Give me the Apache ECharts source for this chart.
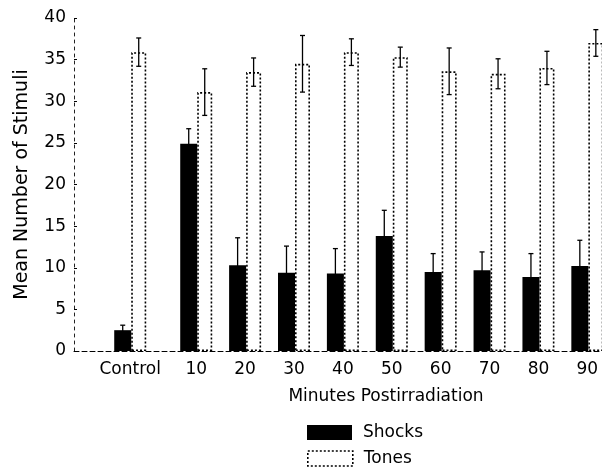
<!DOCTYPE html>
<html><head><meta charset="utf-8">
<script src="https://cdn.jsdelivr.net/npm/echarts@6/dist/echarts.min.js"></script>
<style>html,body{margin:0;padding:0;background:#fff}#c{width:602px;height:468px}</style>
</head><body><div id="c"></div>
<script>
// ---- data ----
const categories = ['Control', '10', '20', '30', '40', '50', '60', '70', '80', '90'];
// position of each group on the minutes axis (Control sits left of 10, wider gap)
const groupPositions = [-3.5, 10, 20, 30, 40, 50, 60, 70, 80, 90];
const shocks    = [2.5, 24.9, 10.3, 9.4, 9.3, 13.8, 9.5, 9.7, 8.9, 10.2];
const shocksErr = [0.6, 1.8, 3.3, 3.2, 3.0, 3.1, 2.2, 2.2, 2.8, 3.1];
const tones     = [35.9, 31.1, 33.5, 34.5, 35.9, 35.3, 33.6, 33.3, 34.0, 37.0];
const tonesErr  = [1.7, 2.8, 1.7, 3.4, 1.6, 1.2, 2.8, 1.8, 2.0, 1.6];
const yTickLabels = ['0', '5', '10', '15', '20', '25', '30', '35', '40'];

const FONT = 'DejaVu Sans';
const TONES_DASH = [2, 2];
const chart = echarts.init(document.getElementById('c'), null, {renderer: 'canvas'});

function errorSeries(name, means, errs, offset) {
  return {
    type: 'custom',
    name: name,
    silent: true,
    z: 10,
    encode: {x: 0, y: 1},
    data: means.map((m, i) => [groupPositions[i], m, errs[i]]),
    renderItem: function (params, api) {
      const x = api.value(0), m = api.value(1), e = api.value(2);
      const top = api.coord([x, m + e]);
      const bot = api.coord([x, m - e]);
      const cx = top[0] + offset;
      const cap = 2.5;
      const st = {stroke: '#000', lineWidth: 1.3};
      return {type: 'group', children: [
        {type: 'line', shape: {x1: cx, y1: top[1], x2: cx, y2: bot[1]}, style: st},
        {type: 'line', shape: {x1: cx - cap, y1: top[1], x2: cx + cap, y2: top[1]}, style: st},
        {type: 'line', shape: {x1: cx - cap, y1: bot[1], x2: cx + cap, y2: bot[1]}, style: st}
      ]};
    }
  };
}

const legendCommon = {
  orient: 'horizontal',
  left: 307,
  padding: 0,
  itemWidth: 45, itemHeight: 15,
  icon: 'rect',
  textStyle: {fontSize: 17, fontFamily: FONT, color: '#000', padding: [0, 0, 0, 6]}
};

const option = {
  animation: false,
  backgroundColor: '#fff',
  textStyle: {fontFamily: FONT, color: '#000'},
  grid: {left: 74, right: 0, top: 18, bottom: 117, outerBoundsMode: 'none', containLabel: false},
  xAxis: {
    type: 'value',
    min: -15, max: 93,
    splitLine: {show: false},
    axisLine: {show: true, onZero: false, lineStyle: {color: '#000', width: 1, type: [5, 3]}},
    axisTick: {show: false},
    axisLabel: {
      customValues: groupPositions,
      formatter: function (v) {
        const i = groupPositions.indexOf(v);
        return i >= 0 ? categories[i] : '';
      },
      fontSize: 17, fontFamily: FONT, color: '#000', margin: 10
    }
  },
  yAxis: {
    type: 'value',
    min: 0, max: 40, interval: 5,
    name: 'Mean Number of Stimuli',
    nameLocation: 'middle',
    nameRotate: 90,
    nameGap: 42,
    nameTextStyle: {fontSize: 19, fontFamily: FONT, color: '#000'},
    splitLine: {show: false},
    axisLine: {show: true, onZero: false, lineStyle: {color: '#222', width: 1, type: [3, 4]}},
    axisTick: {show: true, inside: true, length: 3, lineStyle: {color: '#000'}},
    axisLabel: {
      fontSize: 17, fontFamily: FONT, color: '#000', margin: 8,
      formatter: function (v) { return yTickLabels[Math.round(v / 5)]; }
    }
  },
  legend: [
    Object.assign({}, legendCommon, {top: 424, data: [{name: 'Shocks'}]}),
    Object.assign({}, legendCommon, {top: 450, data: [
      {name: 'Tones', itemStyle: {color: '#fff', borderColor: '#000', borderWidth: 1.6, borderType: TONES_DASH}}
    ]})
  ],
  graphic: [{
    type: 'text',
    x: 386, y: 397,
    style: {text: 'Minutes Postirradiation', font: '17px "DejaVu Sans"', fill: '#000', align: 'center', verticalAlign: 'middle'}
  }],
  series: [
    {
      type: 'bar', name: 'Shocks',
      barWidth: 17, barGap: '0%',
      data: shocks.map((v, i) => [groupPositions[i], v]),
      itemStyle: {color: '#000', borderColor: '#000', borderWidth: 0}
    },
    {
      type: 'bar', name: 'Tones',
      barWidth: 15, barGap: '0%',
      data: tones.map((v, i) => [groupPositions[i], v]),
      itemStyle: {color: '#fff', borderColor: '#000', borderWidth: 1.6, borderType: TONES_DASH}
    },
    errorSeries('ShocksErr', shocks, shocksErr, -7.5),
    errorSeries('TonesErr', tones, tonesErr, 8.5)
  ]
};
chart.setOption(option);
</script>
</body></html>
